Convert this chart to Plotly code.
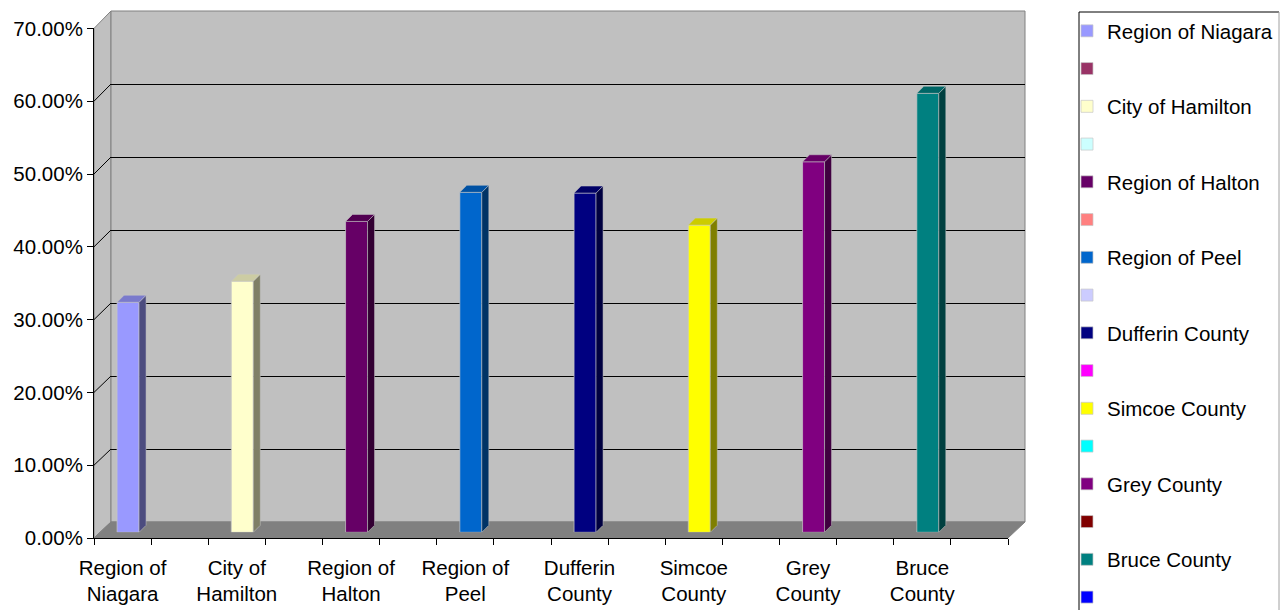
import plotly.graph_objects as go

# ---------------- data ----------------
series_names = ["Region of Niagara", "", "City of Hamilton", "", "Region of Halton", "",
                "Region of Peel", "", "Dufferin County", "", "Simcoe County", "",
                "Grey County", "", "Bruce County", ""]
category_labels = ["Region of<br>Niagara", "", "City of<br>Hamilton", "", "Region of<br>Halton", "",
                   "Region of<br>Peel", "", "Dufferin<br>County", "", "Simcoe<br>County", "",
                   "Grey<br>County", "", "Bruce<br>County", ""]
values = [0.316, None, 0.345, None, 0.427, None, 0.467, None,
          0.466, None, 0.422, None, 0.509, None, 0.603, None]
series_colors = ["#9999FF", "#993366", "#FFFFCC", "#CCFFFF", "#660066", "#FF8080",
                 "#0066CC", "#CCCCFF", "#000080", "#FF00FF", "#FFFF00", "#00FFFF",
                 "#800080", "#800000", "#008080", "#0000FF"]
y_ticks = [0.0, 0.1, 0.2, 0.3, 0.4, 0.5, 0.6, 0.7]

# ---------------- geometry (pixels) ----------------
W, H = 1285, 610
FRONT = dict(x0=94, x1=1008, yb=538, yt=28.4)
BACK = dict(x0=111, x1=1025, yb=522, yt=11)
BARP = dict(x0=99.5, x1=1013.5, yb=532.3, yt=22.7)
YMAX = 0.7
NCAT = len(category_labels)
BAR_W = 0.385
DX_PX, DY_PX = 7, 7
FONT = "Liberation Sans, Arial, sans-serif"
FS = 20.5


def px(x):
    return x / W


def py(y):
    return 1 - y / H


def shade(hexc, f):
    h = hexc.lstrip("#")
    r, g, b = (int(h[i:i + 2], 16) for i in (0, 2, 4))
    return "rgb(%d,%d,%d)" % (r * f, g * f, b * f)


def front_y(v):
    return FRONT["yb"] - v / YMAX * (FRONT["yb"] - FRONT["yt"])


def back_y(v):
    return BACK["yb"] - v / YMAX * (BACK["yb"] - BACK["yt"])


fig = go.Figure()

for i, (name, val, col) in enumerate(zip(series_names, values, series_colors)):
    fig.add_trace(go.Bar(
        x=[i], y=[val], name=name if name else " ", width=BAR_W,
        marker=dict(color=col, line=dict(color="rgba(200,200,200,0.7)", width=1)),
        xaxis="x2", yaxis="y2", legendgroup="g%d" % i, hoverinfo="skip",
    ))

# carrier traces so that the wall and front axes get drawn
fig.add_trace(go.Scatter(x=[None], y=[None], xaxis="x", yaxis="y", showlegend=False, hoverinfo="skip"))
fig.add_trace(go.Scatter(x=[None], y=[None], xaxis="x3", yaxis="y3", showlegend=False, hoverinfo="skip"))

shapes = []
# left side wall
shapes.append(dict(type="path", xref="paper", yref="paper", layer="below",
                   path="M %f,%f L %f,%f L %f,%f L %f,%f Z" % (
                       px(FRONT["x0"]), py(FRONT["yb"]), px(FRONT["x0"]), py(FRONT["yt"]),
                       px(BACK["x0"]), py(BACK["yt"]), px(BACK["x0"]), py(BACK["yb"])),
                   fillcolor="#C0C0C0", line=dict(color="#808080", width=1)))
# back wall
shapes.append(dict(type="rect", xref="paper", yref="paper", layer="below",
                   x0=px(BACK["x0"]), x1=px(BACK["x1"]), y0=py(BACK["yb"]), y1=py(BACK["yt"]),
                   fillcolor="#C0C0C0", line=dict(color="#808080", width=1)))
# floor
shapes.append(dict(type="path", xref="paper", yref="paper", layer="below",
                   path="M %f,%f L %f,%f L %f,%f L %f,%f Z" % (
                       px(FRONT["x0"]), py(FRONT["yb"]), px(FRONT["x1"]), py(FRONT["yb"]),
                       px(BACK["x1"]), py(BACK["yb"]), px(BACK["x0"]), py(BACK["yb"])),
                   fillcolor="#808080", line=dict(color="#808080", width=1)))
# side wall grid diagonals
for v in y_ticks[1:-1]:
    shapes.append(dict(type="line", xref="paper", yref="paper", layer="below",
                       x0=px(FRONT["x0"]), y0=py(front_y(v)), x1=px(BACK["x0"]), y1=py(back_y(v)),
                       line=dict(color="#000000", width=1)))

# 3D faces of the bars (in bar-plane data units)
cat_px = (BARP["x1"] - BARP["x0"]) / NCAT
dx = DX_PX / cat_px
dy = DY_PX / (BARP["yb"] - BARP["yt"]) * YMAX
for i, (val, col) in enumerate(zip(values, series_colors)):
    if val is None:
        continue
    l, r = i - BAR_W / 2, i + BAR_W / 2
    shapes.append(dict(type="path", xref="x2", yref="y2", layer="above",
                       path="M %f,%f L %f,%f L %f,%f L %f,%f Z" % (r, 0, r + dx, dy, r + dx, val + dy, r, val),
                       fillcolor=shade(col, 0.5), line=dict(color="rgba(200,200,200,0.5)", width=1)))
    shapes.append(dict(type="path", xref="x2", yref="y2", layer="above",
                       path="M %f,%f L %f,%f L %f,%f L %f,%f Z" % (l, val, r, val, r + dx, val + dy, l + dx, val + dy),
                       fillcolor=shade(col, 0.8), line=dict(color="rgba(200,200,200,0.5)", width=1)))

# legend frame
shapes.append(dict(type="line", xref="paper", yref="paper", x0=px(1079), x1=px(1079), y0=py(12), y1=py(612),
                   line=dict(color="#000000", width=1)))
shapes.append(dict(type="line", xref="paper", yref="paper", x0=px(1079), x1=px(1279), y0=py(12), y1=py(12),
                   line=dict(color="#000000", width=1)))
shapes.append(dict(type="line", xref="paper", yref="paper", x0=px(1279), x1=px(1279), y0=py(12), y1=py(612),
                   line=dict(color="#A0A0A0", width=1)))

rng_x = [-0.5, NCAT - 0.5]
tick_pos = [i for i, t in enumerate(category_labels) if t]
tick_txt = [t for t in category_labels if t]

fig.update_layout(
    width=W, height=H, margin=dict(l=0, r=0, t=0, b=0, autoexpand=False),
    paper_bgcolor="white", plot_bgcolor="rgba(0,0,0,0)",
    font=dict(family=FONT, size=FS, color="black"),
    barmode="overlay", showlegend=True, shapes=shapes,
    legend=dict(x=px(1067), xanchor="left", y=py(11), yanchor="top", yref="paper",
                bgcolor="rgba(0,0,0,0)", borderwidth=0, traceorder="grouped",
                tracegroupgap=8.1, font=dict(size=FS), maxheight=900, itemclick=False),
    # back wall (grid)
    xaxis=dict(domain=[px(BACK["x0"]), px(BACK["x1"])], range=rng_x, anchor="y",
               showgrid=False, zeroline=False, showticklabels=False, ticks=""),
    yaxis=dict(domain=[py(BACK["yb"]), py(BACK["yt"])], range=[0, YMAX], anchor="x",
               tickvals=y_ticks[1:-1], showgrid=True, gridcolor="#000000", gridwidth=1,
               zeroline=False, showticklabels=False, ticks=""),
    # bar plane
    xaxis2=dict(domain=[px(BARP["x0"]), px(BARP["x1"])], range=rng_x, anchor="y2", visible=False),
    yaxis2=dict(domain=[py(BARP["yb"]), py(BARP["yt"])], range=[0, YMAX], anchor="x2", visible=False),
    # front axes
    xaxis3=dict(domain=[px(FRONT["x0"]), px(FRONT["x1"])], range=rng_x, anchor="y3",
                tickmode="array", tickvals=tick_pos, ticktext=tick_txt, ticks="",
                ticklabelstandoff=11,
                showline=True, linecolor="black", linewidth=1, showgrid=False, zeroline=False,
                tickfont=dict(size=FS, color="black"),
                minor=dict(ticks="outside", ticklen=6, tickcolor="black", tick0=-0.5, dtick=1, showgrid=False)),
    yaxis3=dict(domain=[py(FRONT["yb"]), py(FRONT["yt"])], range=[0, YMAX], anchor="x3",
                tickmode="array", tickvals=y_ticks, tickformat=".2%", ticks="outside", ticklen=6,
                tickcolor="black", showline=True, linecolor="black", linewidth=1,
                showgrid=False, zeroline=False, tickfont=dict(size=FS, color="black")),
)

fig.write_html("out.html")
